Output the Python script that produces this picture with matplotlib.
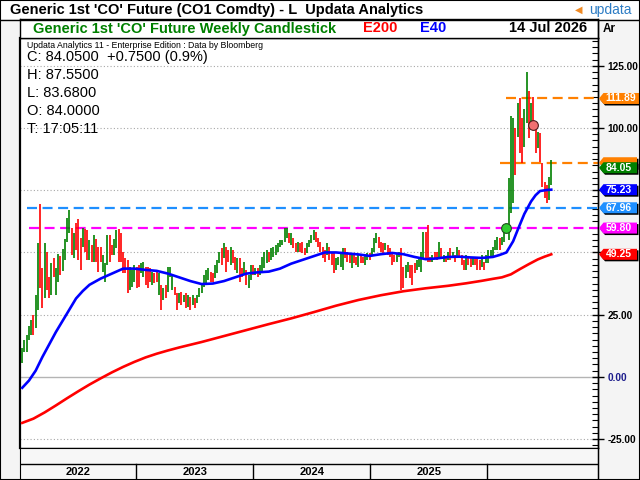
# Generic 1st 'CO' Future - weekly candlestick with E40 / E200, Updata style
import pandas as pd
import matplotlib
matplotlib.use("Agg")
import matplotlib.pyplot as plt
import matplotlib.dates as mdates
from matplotlib.patches import Polygon, Rectangle
from matplotlib.lines import Line2D
from matplotlib.ticker import MultipleLocator
from matplotlib.transforms import IdentityTransform

plt.rcParams["font.family"] = ["Liberation Sans", "DejaVu Sans"]

# weekly candles (high / low, G = up week, R = down week)
highs = [
    11.6, 14.9, 17.0, 20.5, 23.0, 25.0, 33.0, 53.8, 69.5, 43.8,
    53.8, 50.0, 40.0, 45.8, 47.8, 43.8, 49.4, 48.6, 51.4, 55.4,
    63.9, 67.0, 59.8, 58.0, 61.8, 63.5, 56.0, 59.8, 59.4, 59.0,
    55.0, 53.0, 57.0, 55.4, 52.0, 52.0, 49.0, 45.8, 57.0, 57.0,
    53.0, 55.4, 59.0, 59.4, 57.8, 50.0, 47.8, 47.0, 44.0, 43.0,
    45.0, 44.0, 45.0, 45.8, 46.0, 44.0, 44.0, 43.8, 42.0, 41.8,
    43.0, 41.8, 37.0, 35.7, 37.0, 44.0, 44.0, 41.0, 36.0, 33.7,
    33.7, 34.0, 33.0, 33.7, 33.0, 32.0, 33.0, 31.7, 33.0, 35.7,
    37.0, 41.0, 43.0, 43.8, 42.0, 41.8, 45.0, 47.0, 50.2, 51.8,
    53.8, 52.0, 51.0, 52.0, 51.0, 48.0, 47.8, 47.8, 43.8, 46.0,
    43.0, 41.0, 45.0, 45.0, 43.8, 43.8, 45.0, 48.0, 50.2, 51.0,
    50.2, 51.8, 52.0, 53.0, 53.8, 55.0, 55.0, 59.8, 59.8, 58.0,
    57.8, 56.0, 53.8, 54.2, 53.8, 54.2, 51.8, 53.8, 55.0, 57.0,
    59.0, 58.2, 56.0, 54.2, 52.0, 51.0, 53.8, 52.0, 50.2, 49.8,
    47.8, 48.0, 50.2, 51.8, 51.8, 50.2, 49.0, 49.8, 49.0, 48.0,
    49.0, 49.0, 48.0, 49.0, 49.8, 49.8, 51.8, 55.8, 57.8, 56.2,
    54.2, 53.8, 53.8, 53.0, 51.8, 50.2, 49.0, 49.8, 50.2, 51.8,
    44.2, 45.0, 46.2, 45.0, 45.0, 45.8, 47.0, 48.2, 50.2, 58.2,
    58.2, 61.0, 48.2, 49.0, 50.2, 50.2, 54.2, 51.8, 49.0, 48.2,
    50.2, 51.8, 50.2, 49.0, 52.2, 51.0, 49.0, 47.0, 49.0, 48.2,
    47.8, 48.0, 48.2, 47.8, 47.0, 49.0, 46.2, 49.0, 51.0, 51.0,
    52.2, 55.0, 56.2, 55.8, 56.2, 58.2, 61.0, 80.0, 105.0, 104.0,
    100.0, 110.0, 112.0, 104.0, 107.6, 122.5, 115.0, 110.0, 112.4, 102.4,
    98.4, 98.0, 86.0, 78.3, 77.0, 80.3, 87.2,
]
lows = [
    5.6, 10.0, 10.0, 14.9, 17.0, 17.0, 19.7, 27.0, 35.7, 27.7,
    31.7, 35.0, 31.7, 33.0, 40.0, 33.0, 38.0, 41.0, 42.6, 47.0,
    54.2, 57.8, 49.0, 47.8, 51.0, 47.0, 43.0, 52.0, 50.0, 47.0,
    47.0, 46.0, 46.0, 46.0, 42.0, 46.0, 42.0, 38.0, 45.0, 46.0,
    49.0, 49.0, 51.8, 46.0, 46.0, 41.8, 41.8, 33.7, 35.0, 36.0,
    38.0, 35.7, 36.0, 41.8, 40.0, 37.0, 35.7, 38.0, 37.0, 37.8,
    38.0, 33.0, 27.0, 31.0, 31.7, 34.0, 40.0, 35.0, 33.0, 27.0,
    29.7, 29.0, 30.0, 27.7, 28.0, 27.0, 29.0, 27.7, 29.7, 32.0,
    33.7, 36.0, 37.8, 39.0, 38.0, 38.0, 39.8, 41.8, 45.8, 45.0,
    47.8, 42.0, 46.0, 45.0, 45.8, 43.0, 41.8, 38.0, 40.0, 41.0,
    37.0, 35.7, 39.0, 41.0, 41.0, 40.0, 41.0, 42.0, 43.8, 45.8,
    46.0, 47.0, 48.0, 49.0, 50.2, 52.0, 53.0, 54.2, 56.0, 53.8,
    53.0, 51.8, 50.2, 50.2, 50.2, 49.8, 49.0, 49.8, 52.0, 53.8,
    55.0, 54.2, 52.0, 50.2, 47.8, 46.0, 49.0, 47.0, 45.0, 41.8,
    43.0, 45.0, 44.0, 43.0, 47.8, 46.0, 45.8, 43.8, 45.8, 45.0,
    44.0, 45.8, 45.8, 45.0, 47.0, 47.0, 49.0, 50.2, 53.8, 51.8,
    50.2, 49.8, 51.0, 49.0, 48.2, 45.0, 46.2, 46.2, 48.2, 35.0,
    35.7, 39.8, 42.2, 39.8, 37.0, 41.8, 43.0, 44.2, 42.2, 47.8,
    47.0, 46.2, 46.2, 46.2, 47.8, 47.0, 48.2, 48.2, 46.2, 46.2,
    47.0, 47.0, 47.8, 46.2, 48.2, 47.8, 45.0, 43.0, 43.0, 45.0,
    44.2, 45.0, 45.0, 43.0, 43.0, 44.2, 43.0, 45.8, 45.8, 47.8,
    47.8, 51.0, 51.0, 51.0, 53.0, 54.2, 57.8, 55.0, 66.0, 70.0,
    81.0, 96.4, 90.0, 86.0, 92.4, 102.0, 96.0, 102.4, 101.2, 90.0,
    92.0, 86.3, 76.3, 72.0, 70.0, 71.0, 77.0,
]
direction = (
    "GGGGGRGGRR" "GRRGRGGRGG" "GGRGRRRGRR" "GRGRRRGGGR" "RGGRRRRRGG"
    "GRRGGRRRGR" "RGRGRGGGRR" "GRGRGRGRGG" "GGGGRRGGGR" "GRRGRRGRRG"
    "RGGRGRGGGG" "RGGGGGGGGR" "GRRGRRRGGG" "GRRRRRGRRR" "GGGGRRRGRR"
    "GRRGGRGGGR" "RRGRRRRGGR" "RGGRRRGGGG" "RRRGRRGRGR" "GRGRGRRRGR"
    "RGRRRGRGGG" "GGGRGGGGGG" "RGRRGGRGRR" "GRRRRGG"
)
first_week = "2022-01-10"

# E40 and E200 lines, sampled at week numbers
e40_week = [0, 3, 6, 9, 12, 15, 18, 21, 24, 27, 30, 35, 40, 45, 50, 55, 60,
            65, 70, 75, 80, 85, 90, 95, 100, 105, 110, 115, 120, 125, 130,
            135, 140, 145, 150, 155, 160, 165, 170, 175, 180, 185, 190, 195,
            200, 205, 210, 213, 216, 219, 221, 224, 227, 229, 231, 234, 236]
e40_val = [-4.4, -1.5, 2.5, 8.0, 13.0, 18.0, 22.5, 27.0, 31.5, 34.5, 37.0,
           39.5, 41.5, 43.5, 43.5, 43.0, 42.6, 41.5, 40.0, 38.5, 37.3, 37.5,
           38.5, 40.0, 41.5, 42.0, 42.3, 43.5, 45.5, 47.0, 48.5, 50.0, 50.0,
           49.6, 49.2, 48.6, 49.3, 49.8, 49.3, 48.2, 47.3, 47.6, 48.2, 48.3,
           48.0, 47.8, 48.2, 49.0, 50.0, 54.5, 59.0, 65.5, 70.5, 73.0, 74.7,
           75.1, 75.23]
e200_week = [0, 5, 10, 15, 20, 25, 30, 35, 40, 45, 50, 55, 60, 65, 70, 75,
             80, 90, 100, 110, 120, 130, 140, 150, 160, 170, 180, 190, 198,
             205, 210, 214, 218, 222, 226, 230, 233, 236]
e200_val = [-18.5, -16.8, -14.3, -11.5, -8.6, -5.8, -3.1, -0.6, 1.8, 4.0, 6.0,
            7.8, 9.3, 10.6, 11.8, 12.9, 14.0, 16.4, 18.8, 21.2, 23.5, 26.0,
            28.6, 30.9, 32.8, 34.4, 35.6, 36.6, 37.6, 38.6, 39.4, 40.0, 41.2,
            43.3, 45.3, 47.2, 48.3, 49.25]

# horizontal levels and price flags on the right scale
level_val = [111.89, 86.06, 67.96, 59.80]
level_col = ["#ff8000", "#ff8000", "#1e8fff", "#ff00ff"]
level_from = [216, 213, 2, 3]
flag_val = [111.89, 86.06, 84.05, 75.23, 67.96, 59.80, 49.25]
flag_col = ["#ff8000", "#ff8000", "#008000", "#0000ff", "#1e8fff", "#ff00ff", "#ff0000"]

ohlc_lines = ["C: 84.0500  +0.7500 (0.9%)", "H: 87.5500", "L: 83.6800",
              "O: 84.0000", "T: 17:05:11"]
years = ["2022", "2023", "2024", "2025"]
price_ticks = [-25, 0, 25, 50, 75, 100, 125]

W, H = 640, 480
def fx(px):
    return px / W
def fy(py):
    return 1 - py / H

weeks = pd.date_range(first_week, periods=len(highs), freq="7D")
xd = mdates.date2num(weeks)

fig = plt.figure(figsize=(6.4, 4.8), dpi=100)
fig.patch.set_facecolor("white")
# grey side strips
fig.add_artist(Rectangle((0, 0), fx(20), fy(19), transform=fig.transFigure,
                         fc="#f4f4f4", ec="none", zorder=0))
fig.add_artist(Rectangle((fx(598), 0), fx(42), fy(19), transform=fig.transFigure,
                         fc="#f4f4f4", ec="none", zorder=0))

ax = fig.add_axes([fx(20), fy(448), fx(578), (448 - 38) / H])
x0 = mdates.date2num(pd.Timestamp("2022-01-03"))
x1 = mdates.date2num(pd.Timestamp("2026-12-13"))
ax.set_xlim(x0, x1)
ax.set_ylim(-28.6, 136.2)

for t in price_ticks:
    if t == 0:
        ax.axhline(t, color="#b4b4b4", lw=1.0, zorder=1)
    else:
        ax.axhline(t, color="#a8a8a8", lw=0.8, ls=(0, (1, 2)), zorder=1)

cols = ["#008000" if d == "G" else "#ff0000" for d in direction]
ax.vlines(xd, lows, highs, colors=cols, lw=1.2, zorder=3)

ax.plot(mdates.date2num(weeks[e200_week]), e200_val, color="#ff0000", lw=1.9, zorder=4)
ax.plot(mdates.date2num(weeks[e40_week]), e40_val, color="#0000ff", lw=1.9, zorder=4)

for v, c, w in zip(level_val, level_col, level_from):
    ax.hlines(v, xd[w], x1, colors=c, lw=1.6, linestyles=(0, (4.5, 2.5)), zorder=2)

ax.plot(xd[216], 59.8, "o", ms=7, mfc="#2ecc2e", mec="#1d4d1d", mew=0.8, zorder=6)
ax.plot(xd[228], 101.2, "o", ms=7, mfc="#f07070", mec="#4d1d1d", mew=0.8, zorder=6)

# 50.00 and 75.00 sit under the price flags, so they stay blank
hidden = (50, 75)
ax.set_xticks([])
ax.yaxis.tick_right()
ax.set_yticks(price_ticks)
ax.set_yticklabels(["" if t in hidden else f"{t:.2f}" for t in price_ticks],
                   fontsize=7.3, fontweight="bold")
for lab in ax.get_yticklabels():
    if lab.get_text() == "0.00":
        lab.set_color("#1c1c8c")
ax.yaxis.set_minor_locator(MultipleLocator(2.5))
ax.tick_params(axis="y", which="major", direction="inout", length=8, width=1, pad=3)
ax.tick_params(axis="y", which="minor", direction="in", length=4, width=0.8)
for s in ax.spines.values():
    s.set_color("black")
    s.set_linewidth(1.0)
ax.spines["left"].set_linewidth(1.6)

# info text inside the chart
fig.text(fx(27), fy(45), "Updata Analytics 11 - Enterprise Edition : Data by Bloomberg",
         fontsize=6.3, va="center")
for i, s in enumerate(ohlc_lines):
    fig.text(fx(27), fy(57 + 18 * i), s, fontsize=10.5, va="center")

# header row
hdr = fig.add_axes([fx(20), fy(38), fx(578), 19 / H])
hdr.set_xticks([])
hdr.set_yticks([])
for s in hdr.spines.values():
    s.set_linewidth(1.0)
fig.text(fx(33), fy(28.5), "Generic 1st 'CO' Future Weekly Candlestick", color="#008000",
         fontsize=10.5, fontweight="bold", va="center")
fig.text(fx(363), fy(28.5), "E200", color="#ff0000", fontsize=10.5, fontweight="bold", va="center")
fig.text(fx(420), fy(28.5), "E40", color="#0000ff", fontsize=10.5, fontweight="bold", va="center")
fig.text(fx(587), fy(28.5), "14 Jul 2026", color="black", fontsize=10.5, fontweight="bold",
         va="center", ha="right")
fig.text(fx(603), fy(28.5), "Ar", fontsize=8.5, fontweight="bold", va="center")

# title bar
fig.text(fx(10), fy(10), "Generic 1st 'CO' Future (CO1 Comdty) - L  Updata Analytics",
         fontsize=10.5, fontweight="bold", va="center")
fig.text(fx(632), fy(10), "updata", color="#2c7cc4", fontsize=10, va="center", ha="right")
fig.text(fx(582), fy(10), "\u25c0", color="#f08a24", fontsize=7, va="center", ha="right")
fig.add_artist(Line2D([0, 1], [fy(19.5), fy(19.5)], color="black", lw=1.0))
fig.add_artist(Line2D([fx(598), fx(598)], [0, fy(19.5)], color="black", lw=1.0))
fig.add_artist(Rectangle((0, 0), 1, 1, transform=fig.transFigure, fc="none",
                         ec="black", lw=1.5, zorder=10))

# date band at the bottom
yr = fig.add_axes([fx(20), 0, fx(578), 32 / H])
yr.set_facecolor("#f7f7f7")
yr.set_xlim(x0, x1)
yr.set_ylim(0, 1)
yr.set_xticks([])
yr.set_yticks([])
yr.axhline(0.5, color="black", lw=1.0)
bounds = [x0] + [mdates.date2num(pd.Timestamp(f"{y}-01-01")) for y in range(2023, 2027)]
for b in bounds[1:]:
    yr.plot([b, b], [0, 0.5], color="black", lw=1.0)
for i, y in enumerate(years):
    yr.text((bounds[i] + bounds[i + 1]) / 2, 0.24, y, ha="center", va="center",
            fontsize=8, fontweight="bold")

# price flags on the right scale; the 86.06 flag is buried under 84.05
def flag(v, col, show_text=True):
    yp = ax.transData.transform((x0, v))[1]
    label = f"{v:.2f}"
    right = 637 if len(label) <= 5 else 648
    pts = [(599, yp), (603.5, yp + 5.5), (right, yp + 5.5), (right, yp - 5.5), (603.5, yp - 5.5)]
    sh = [(px + 1.5, py - 1.5) for px, py in pts]
    fig.add_artist(Polygon(sh, closed=True, transform=IdentityTransform(), fc="black",
                           ec="none", zorder=5))
    fig.add_artist(Polygon(pts, closed=True, transform=IdentityTransform(), fc=col,
                           ec="none", zorder=6))
    if show_text:
        fig.text(605.5, yp, label, transform=IdentityTransform(), color="white",
                 fontsize=7.5, fontweight="bold", va="center", ha="left", zorder=7)

for v, c in zip(flag_val, flag_col):
    flag(v, c, show_text=(v != 86.06))

fig.savefig("out.png", dpi=100)
